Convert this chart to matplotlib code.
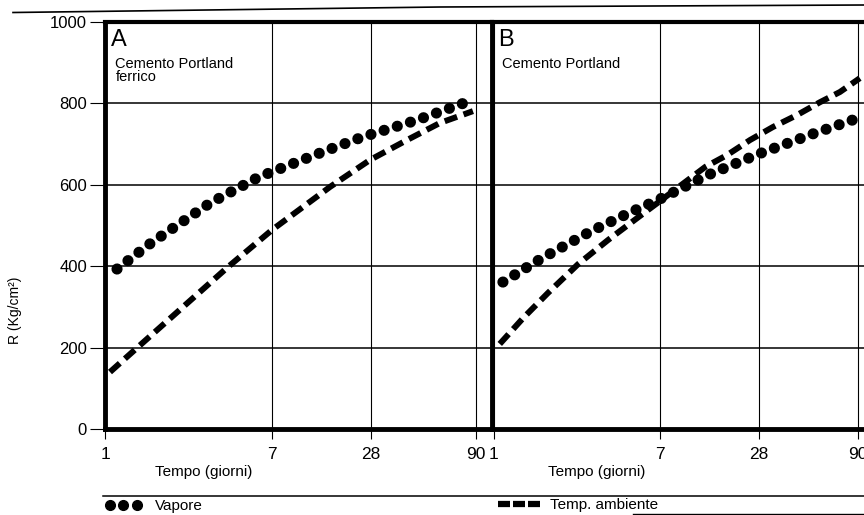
import numpy as np
import matplotlib.pyplot as plt
from matplotlib.lines import Line2D

plt.rcParams['font.family'] = ['Liberation Sans', 'DejaVu Sans']

# Resistenza a compressione R (kg/cm²) nel tempo, maturazione a vapore / a temperatura ambiente
# A - Cemento Portland ferrico
a_vap_days = [1.15, 1.71, 3.4, 6.0, 14.3, 24.7, 46.7, 84]
a_vap_r = [393, 457, 555, 619, 681, 717, 759, 806]
a_amb_days = [1.06, 1.45, 4.19, 7, 15.8, 27.6, 41.8, 60.3, 87]
a_amb_r = [140, 199, 398, 489, 595, 661, 710, 752, 781]

# B - Cemento Portland
b_vap_days = [1.11, 1.73, 3.12, 4.98, 7, 13.7, 28, 52.8, 94]
b_vap_r = [361, 418, 486, 533, 565, 624, 676, 725, 767]
b_amb_days = [1.07, 1.41, 1.88, 2.68, 3.8, 5.35, 7, 13.2, 17.9, 24.7, 33, 43.7, 57.5, 72.7, 92]
b_amb_r = [209, 273, 334, 405, 464, 518, 560, 644, 673, 710, 742, 771, 803, 828, 862]

day_ticks = [1, 7, 28, 90]
r_ticks = [0, 200, 400, 600, 800, 1000]


def day_scale(u7, u28):
    # time axis drawn by hand: log spacing, stretched piecewise between labelled days
    logs = np.log10([1.0, 7.0, 28.0, 90.0])
    pos = np.array([0.0, u7, u28, 1.0])
    lo_slope = pos[1] / logs[1]
    hi_slope = (pos[3] - pos[2]) / (logs[3] - logs[2])
    logs = np.r_[-2.0, logs, 4.0]
    pos = np.r_[-2.0 * lo_slope, pos, 1.0 + (4.0 - np.log10(90.0)) * hi_slope]

    def fwd(x):
        return np.interp(np.log10(np.clip(x, 1e-6, None)), logs, pos)

    def inv(u):
        return 10 ** np.interp(u, pos, logs)

    return fwd, inv


W, H = 864, 515
fig = plt.figure(figsize=(W / 100, H / 100), dpi=100)


def px_box(x0, x1, y0, y1):
    return [x0 / W, 1 - y1 / H, (x1 - x0) / W, (y1 - y0) / H]


ax_a = fig.add_axes(px_box(105, 492, 22, 429))
ax_b = fig.add_axes(px_box(492, 864, 22, 429))


def draw_panel(ax, scale, u_lim, vap_d, vap_r, amb_d, amb_r, letter, name, lab_x):
    fwd, inv = scale
    ax.set_xscale('function', functions=(fwd, inv))
    ax.set_xlim(inv(u_lim[0]), inv(u_lim[1]))
    ax.set_ylim(0, 1000)

    ax.plot(amb_d, amb_r, color='black', lw=4.3,
            linestyle=(0, (2.2, 1.15)), dash_capstyle='butt', zorder=3)
    ax.plot(vap_d, vap_r, color='black', lw=8,
            linestyle=(0, (0.01, 1.23)), dash_capstyle='round', zorder=4)

    ax.set_xticks(day_ticks, labels=[str(d) for d in day_ticks])
    ax.set_yticks(r_ticks)
    ax.tick_params(axis='x', direction='out', length=7, width=0.8, pad=6,
                   labelsize=12.5)
    ax.grid(axis='x', color='black', lw=0.8)
    ax.grid(axis='y', color='black', lw=1.1)

    ax.spines['right'].set_visible(False)
    ax.spines['top'].set_linewidth(3.0)
    ax.spines['bottom'].set_linewidth(3.5)
    ax.spines['left'].set_linewidth(3.5)

    ax.text(0.016, 0.982, letter, transform=ax.transAxes, fontsize=17,
            ha='left', va='top')
    ax.text(0.027, 0.915, name, transform=ax.transAxes, fontsize=10.5,
            ha='left', va='top', linespacing=0.95)

    ax.set_xlabel('Tempo (giorni)', fontsize=11, ha='left', va='center')
    ax.xaxis.set_label_coords(lab_x, -0.106)


# A: 1 -> 90 giorni over 371 px, B: over 364 px
draw_panel(ax_a, day_scale(0.450, 0.717), (0.0, 387 / 371),
           a_vap_days, a_vap_r, a_amb_days, a_amb_r,
           'A', 'Cemento Portland\nferrico', 0.129)
draw_panel(ax_b, day_scale(0.456, 0.728), (-2 / 364, 370 / 364),
           b_vap_days, b_vap_r, b_amb_days, b_amb_r,
           'B', 'Cemento Portland', 0.15)

ax_a.tick_params(axis='y', direction='out', length=11, width=0.8, pad=2,
                 labelsize=12)
ax_a.set_ylabel('R (Kg/cm²)', fontsize=10)
ax_a.yaxis.set_label_coords((22 - 105) / 387, (429 - 310) / 407)
ax_b.tick_params(axis='y', left=False, labelleft=False)

# legend under the two panels
vap_handle = Line2D([], [], color='black', marker='o', markersize=7,
                    linestyle='None')
amb_handle = Line2D([], [], color='black', lw=4.5,
                    linestyle=(0, (1.92, 0.48)), dash_capstyle='butt')
fig.legend(handles=[vap_handle], labels=['Vapore'], loc='center left',
           bbox_to_anchor=(105 / W, 1 - 506 / H), numpoints=3,
           handlelength=2.4, handletextpad=0.85, frameon=False,
           borderpad=0, borderaxespad=0, fontsize=11)
fig.legend(handles=[amb_handle], labels=['Temp. ambiente'], loc='center left',
           bbox_to_anchor=(498 / W, 1 - 505 / H),
           handlelength=2.75, handletextpad=0.65, frameon=False,
           borderpad=0, borderaxespad=0, fontsize=11)

# ruled lines of the page
fig.add_artist(Line2D([13 / W, 440 / W, 1], [1 - 12.5 / H, 1 - 7 / H, 1 - 5 / H],
                      color='black', lw=1.2))
fig.add_artist(Line2D([103 / W, 1], [1 - 495.5 / H] * 2, color='black', lw=1.1))
fig.add_artist(Line2D([633 / W, 1], [1 - 513.5 / H] * 2, color='black', lw=1.0))

fig.savefig('out.png', dpi=100)
